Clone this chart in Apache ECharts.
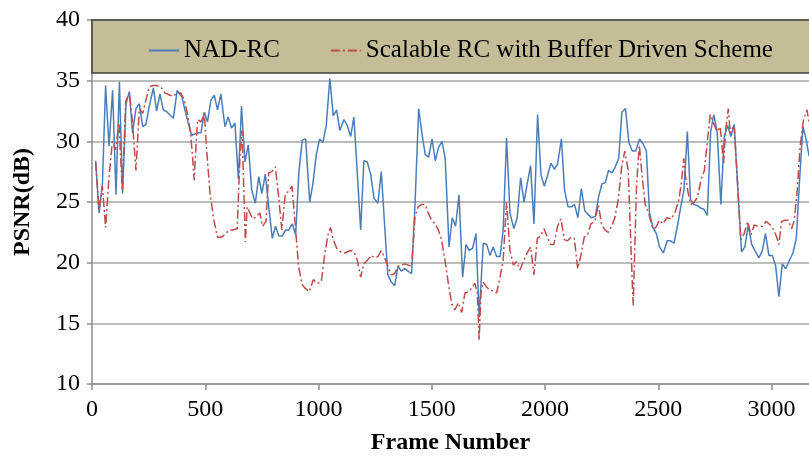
<!DOCTYPE html>
<html>
<head>
<meta charset="utf-8">
<script src="https://cdn.jsdelivr.net/npm/echarts@6/dist/echarts.min.js"></script>
<style>
html,body{margin:0;padding:0;background:#fff;}
#chart{width:809px;height:460px;}
</style>
</head>
<body>
<div id="chart"></div>
<script>
var seriesNames = ['NAD-RC', 'Scalable RC with Buffer Driven Scheme'];
var xTicks = [0, 500, 1000, 1500, 2000, 2500, 3000];
var yTicks = [10, 15, 20, 25, 30, 35, 40];

var nadFrames = [16,31,46,60,75,91,106,121,135,150,165,179,194,209,224,238,253,271,285,300,315,332,359,376,396,410,425,440,454,469,481,496,510,525,540,554,569,587,601,616,631,646,660,675,690,705,721,736,750,765,780,796,810,825,840,855,869,884,899,913,928,943,961,975,990,1005,1019,1034,1050,1065,1080,1094,1112,1127,1142,1156,1171,1186,1200,1215,1230,1245,1262,1277,1292,1306,1321,1336,1351,1365,1380,1395,1411,1426,1442,1456,1471,1486,1501,1515,1530,1545,1559,1576,1590,1605,1620,1636,1651,1665,1680,1695,1709,1727,1742,1757,1771,1786,1801,1815,1830,1845,1862,1877,1892,1907,1921,1936,1951,1967,1982,1997,2011,2026,2041,2055,2072,2086,2101,2116,2130,2145,2160,2175,2189,2204,2222,2236,2251,2266,2280,2295,2310,2325,2339,2355,2370,2385,2400,2417,2432,2447,2461,2476,2491,2505,2522,2539,2554,2569,2584,2598,2613,2628,2642,2657,2672,2687,2701,2716,2731,2745,2760,2776,2791,2806,2820,2835,2850,2867,2882,2897,2912,2926,2944,2959,2973,2988,3003,3018,3032,3047,3062,3076,3094,3109,3123,3138,3153,3165];
var nadPsnr = [28.4,24.1,26.5,34.6,29.6,34.2,25.6,34.9,25.7,33.1,34.1,30.7,32.7,33.1,31.2,31.4,32.9,34.4,32.5,33.9,32.6,32.4,31.9,34.2,33.7,32.6,31.5,30.5,30.6,30.7,30.7,32.4,31.6,33.4,33.8,32.6,33.9,31.2,32.0,31.1,31.5,26.9,32.9,28.3,29.7,26.0,24.9,27.1,25.7,27.3,24.6,22.0,23.0,22.2,22.2,22.7,22.7,23.2,22.3,27.4,30.1,30.2,25.0,26.5,28.9,30.2,29.9,31.3,35.2,32.1,32.6,30.9,31.8,31.3,30.4,32.0,27.4,22.7,28.4,28.3,27.3,25.3,24.9,27.5,23.0,19.0,18.4,18.1,19.7,19.3,19.5,19.3,19.1,24.9,32.7,30.7,28.9,28.7,30.2,28.4,29.5,30.0,28.6,21.3,23.7,23.0,25.6,18.8,21.5,21.0,21.2,22.4,15.5,21.6,21.5,20.6,21.3,20.5,20.5,22.7,30.3,24.1,22.8,23.7,27.0,25.0,26.5,28.0,23.2,32.2,27.2,26.3,27.2,28.2,27.7,28.1,30.2,26.0,24.6,24.6,24.8,23.7,26.1,24.3,24.0,23.7,23.8,25.4,26.5,26.6,27.6,27.4,27.9,28.6,32.4,32.7,29.9,29.2,29.2,30.2,29.8,29.2,24.1,22.9,22.4,21.3,20.8,21.8,21.8,21.6,23.0,24.5,26.0,30.8,25.2,24.8,24.7,24.5,24.4,23.9,30.8,32.2,30.7,24.8,30.4,31.3,30.4,31.4,26.3,20.9,21.3,23.1,21.5,21.0,20.4,21.0,22.4,20.6,20.6,19.7,17.2,19.9,19.5,20.1,20.8,22.0,26.7,31.2,30.1,28.8];

var sbdFrames = [16,31,46,60,75,90,104,119,134,149,165,179,194,209,224,238,253,271,285,303,322,344,359,374,391,406,421,435,444,451,459,466,481,496,506,521,538,554,572,591,606,621,641,653,662,668,677,685,697,709,727,741,753,768,780,794,809,824,838,853,868,883,897,912,927,941,959,977,994,1012,1028,1043,1053,1065,1080,1097,1117,1139,1156,1171,1186,1200,1215,1234,1245,1262,1277,1292,1306,1321,1336,1351,1365,1380,1396,1411,1426,1440,1455,1470,1484,1499,1514,1529,1543,1558,1573,1588,1602,1617,1632,1646,1661,1676,1690,1701,1709,1717,1727,1742,1757,1771,1786,1801,1815,1830,1845,1860,1874,1889,1904,1921,1936,1951,1966,1980,1995,2010,2024,2039,2055,2070,2085,2099,2114,2129,2144,2158,2173,2188,2202,2220,2235,2250,2264,2279,2294,2308,2323,2338,2352,2367,2377,2385,2389,2397,2404,2416,2427,2442,2457,2475,2489,2505,2520,2538,2556,2573,2591,2603,2612,2620,2632,2644,2659,2673,2688,2703,2717,2729,2744,2759,2773,2788,2797,2809,2817,2826,2835,2850,2864,2879,2894,2909,2923,2941,2959,2976,2994,3009,3023,3032,3044,3059,3073,3088,3100,3112,3126,3141,3156,3165];
var sbdPsnr = [28.3,24.3,26.3,22.9,27.0,30.0,29.3,31.5,25.9,33.3,34.0,31.5,27.6,32.7,32.3,33.4,34.5,34.6,34.6,34.5,34.0,33.8,33.7,34.0,34.0,33.5,32.3,30.7,28.7,26.8,29.6,31.8,31.6,32.3,29.3,25.7,23.5,22.1,22.1,22.4,22.7,22.7,22.8,28.7,30.9,27.4,21.7,24.6,24.1,23.6,23.8,24.1,23.0,23.4,27.4,27.5,27.9,25.4,22.7,25.6,25.9,26.3,23.1,19.7,18.2,17.9,17.6,18.6,18.3,18.4,20.8,22.4,22.9,21.9,21.2,20.9,20.8,21.0,20.9,20.2,18.8,19.9,20.2,20.6,20.4,20.5,21.0,20.4,19.7,19.0,19.1,19.7,19.8,19.9,19.8,19.7,23.8,24.6,24.8,24.8,24.1,23.5,23.2,22.7,21.9,20.2,18.3,16.6,16.1,16.7,15.9,17.5,17.6,17.9,18.3,17.5,13.6,17.5,18.4,18.0,17.7,17.7,17.5,18.8,20.2,25.0,21.0,19.8,20.1,19.4,20.1,20.8,21.3,19.0,22.0,22.2,22.8,22.1,21.5,21.5,23.0,23.6,21.9,21.8,22.1,22.0,19.5,20.6,22.1,22.3,23.2,23.4,24.8,23.1,22.7,22.5,23.0,23.7,25.2,27.9,29.2,27.6,22.4,18.3,16.5,21.9,26.5,29.7,27.4,24.8,24.1,22.8,22.9,23.5,23.2,23.7,23.6,24.1,25.2,26.8,28.6,27.1,25.7,24.8,25.0,25.4,26.8,27.6,30.1,32.2,31.5,30.8,31.2,28.2,30.9,32.7,30.7,31.1,31.1,26.5,21.9,22.4,23.4,22.3,23.1,23.0,23.0,23.4,23.1,22.7,22.1,21.5,23.4,23.5,23.5,22.8,23.5,25.7,29.6,31.8,32.6,31.6];

function zip(xs, ys) { return xs.map(function (x, i) { return [x, ys[i]]; }); }

var FONT = '"Liberation Serif", "Times New Roman", serif';
var chart = echarts.init(document.getElementById('chart'), null, {renderer: 'canvas'});
chart.setOption({
  animation: false,
  backgroundColor: '#ffffff',
  grid: {left: 92, right: 0, top: 20, bottom: 74, containLabel: false},
  graphic: [{
    type: 'rect', z: 5,
    shape: {x: 92, y: 20, width: 720, height: 53},
    style: {fill: '#C4BD97', stroke: '#3F3F3F', lineWidth: 1.5}
  }],
  legend: {
    z: 10,
    left: 143, top: 33,
    itemWidth: 30, itemHeight: 12, itemGap: 50,
    itemStyle: {opacity: 0},
    textStyle: {fontFamily: FONT, fontSize: 25, color: '#000'},
    data: seriesNames
  },
  xAxis: {
    type: 'value', min: 0, max: 3165, interval: 500,
    name: 'Frame Number', nameLocation: 'middle', nameGap: 47,
    nameTextStyle: {fontFamily: FONT, fontSize: 24, fontWeight: 'bold', color: '#000'},
    axisLine: {show: true, lineStyle: {color: '#8C8C8C', width: 1.5}},
    axisTick: {show: true, inside: false, length: 6, lineStyle: {color: '#8C8C8C', width: 1.5}},
    axisLabel: {fontFamily: FONT, fontSize: 24, color: '#000', margin: 14, showMaxLabel: false,
      formatter: function (v) { return xTicks.indexOf(v) >= 0 ? String(v) : ''; }},
    splitLine: {show: false}
  },
  yAxis: {
    type: 'value', min: 10, max: 40, interval: 5,
    name: 'PSNR(dB)', nameLocation: 'middle', nameGap: 57, nameRotate: 90,
    nameTextStyle: {fontFamily: FONT, fontSize: 24, fontWeight: 'bold', color: '#000'},
    axisLine: {show: true, lineStyle: {color: '#8C8C8C', width: 1.5}},
    axisTick: {show: true, length: 5, lineStyle: {color: '#8C8C8C', width: 1.5}},
    axisLabel: {fontFamily: FONT, fontSize: 24, color: '#000', margin: 12,
      formatter: function (v) { return yTicks.indexOf(v) >= 0 ? String(v) : ''; }},
    splitLine: {show: true, lineStyle: {color: '#A6A6A6', width: 1.5}}
  },
  series: [{
    name: seriesNames[0], type: 'line', symbol: 'none',
    data: zip(nadFrames, nadPsnr),
    itemStyle: {color: '#4A7EBB'},
    lineStyle: {color: '#4A7EBB', width: 1.5}
  }, {
    name: seriesNames[1], type: 'line', symbol: 'none',
    data: zip(sbdFrames, sbdPsnr),
    itemStyle: {color: '#BE4B48'},
    lineStyle: {color: '#BE4B48', width: 1.5, type: [9, 3, 2, 3]}
  }]
});
</script>
</body>
</html>
